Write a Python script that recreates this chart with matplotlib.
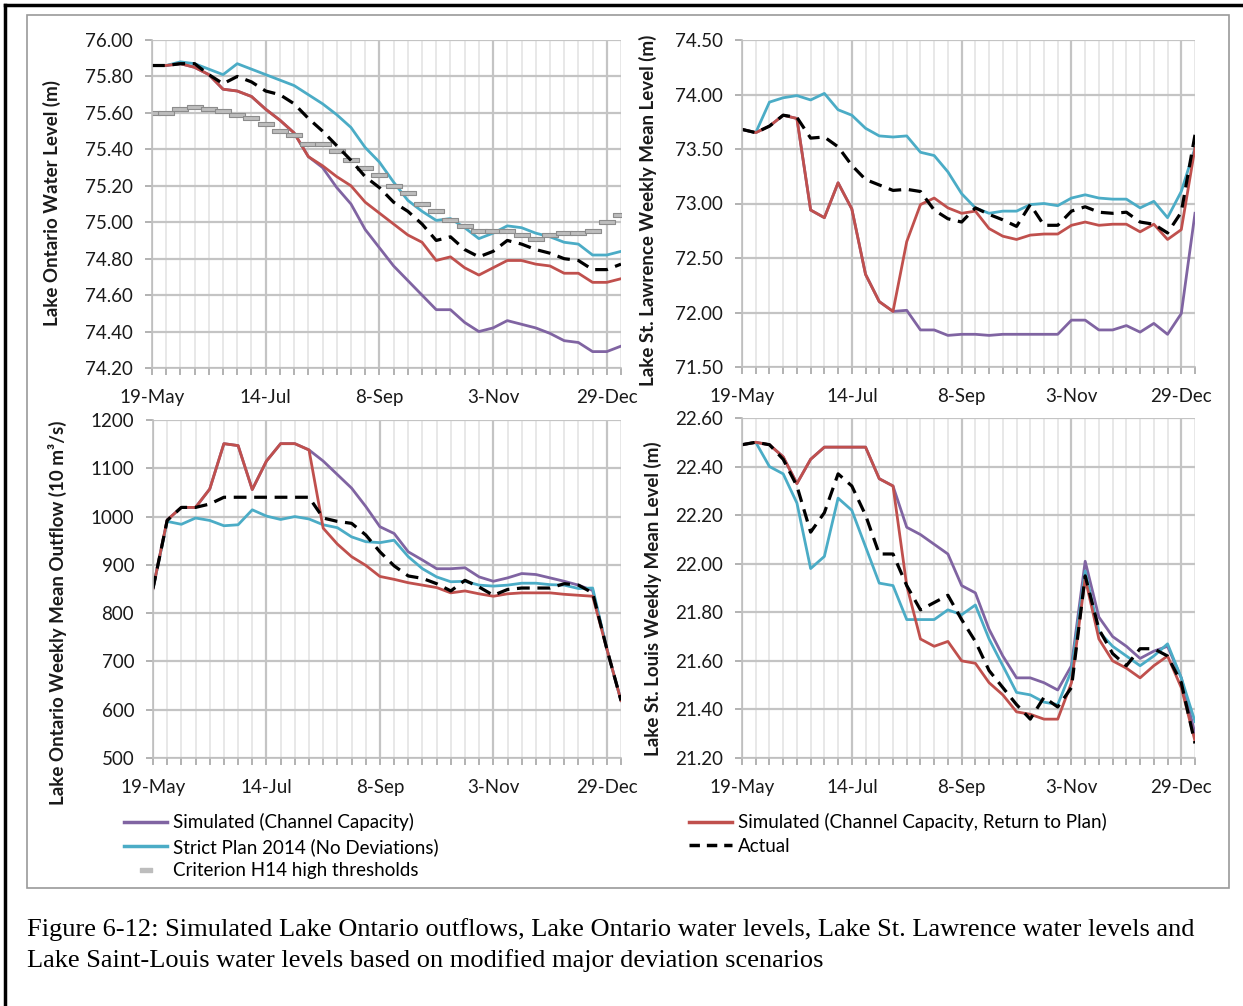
import numpy as np
import matplotlib
matplotlib.use("Agg")
import matplotlib.pyplot as plt
from matplotlib.lines import Line2D
from matplotlib.patches import Rectangle
from matplotlib.path import Path

plt.rcParams['font.family'] = ['Lato', 'DejaVu Sans']

# %% Data: weekly values, 19-May to 5-Jan (34 weeks)

weeks = np.arange(34)
tick_weeks = [0, 8, 16, 24, 32]
tick_labels = ['19-May', '14-Jul', '8-Sep', '3-Nov', '29-Dec']

# Lake Ontario water level (m)
lo_cc = [75.86, 75.86, 75.87, 75.85, 75.81, 75.73, 75.72, 75.69, 75.62, 75.56, 75.49, 75.36,
         75.30, 75.19, 75.10, 74.96, 74.86, 74.76, 74.68, 74.60, 74.52, 74.52, 74.45, 74.40,
         74.42, 74.46, 74.44, 74.42, 74.39, 74.35, 74.34, 74.29, 74.29, 74.32]
lo_rtp = [75.86, 75.86, 75.87, 75.85, 75.81, 75.73, 75.72, 75.69, 75.62, 75.56, 75.49, 75.36,
          75.31, 75.25, 75.20, 75.11, 75.05, 74.99, 74.93, 74.89, 74.79, 74.81, 74.75, 74.71,
          74.75, 74.79, 74.79, 74.77, 74.76, 74.72, 74.72, 74.67, 74.67, 74.69]
lo_strict = [75.86, 75.86, 75.88, 75.87, 75.84, 75.81, 75.87, 75.84, 75.81, 75.78, 75.75, 75.70,
             75.65, 75.59, 75.52, 75.41, 75.33, 75.22, 75.12, 75.06, 75.01, 75.02, 74.97, 74.91,
             74.94, 74.98, 74.97, 74.94, 74.92, 74.89, 74.88, 74.82, 74.82, 74.84]
lo_actual = [75.86, 75.86, 75.87, 75.87, 75.81, 75.76, 75.80, 75.77, 75.72, 75.70, 75.65, 75.57,
             75.50, 75.42, 75.34, 75.25, 75.19, 75.11, 75.06, 74.99, 74.90, 74.92, 74.85, 74.81,
             74.84, 74.90, 74.88, 74.85, 74.83, 74.80, 74.79, 74.74, 74.74, 74.77]
lo_h14 = [75.60, 75.60, 75.62, 75.63, 75.62, 75.61, 75.59, 75.57, 75.54, 75.50, 75.48, 75.43,
          75.43, 75.39, 75.34, 75.30, 75.26, 75.20, 75.16, 75.10, 75.06, 75.01, 74.98, 74.95,
          74.95, 74.95, 74.93, 74.91, 74.93, 74.94, 74.94, 74.95, 75.00, 75.04]

# Lake St. Lawrence weekly mean level (m)
lsl_cc = [73.68, 73.65, 73.71, 73.81, 73.78, 72.94, 72.87, 73.19, 72.95, 72.35, 72.10, 72.01,
          72.02, 71.84, 71.84, 71.79, 71.80, 71.80, 71.79, 71.80, 71.80, 71.80, 71.80, 71.80,
          71.93, 71.93, 71.84, 71.84, 71.88, 71.82, 71.90, 71.80, 71.99, 72.91]
lsl_rtp = [73.68, 73.65, 73.71, 73.81, 73.78, 72.94, 72.87, 73.19, 72.95, 72.35, 72.10, 72.01,
           72.65, 72.99, 73.05, 72.96, 72.91, 72.93, 72.77, 72.70, 72.67, 72.71, 72.72, 72.72,
           72.80, 72.83, 72.80, 72.81, 72.81, 72.74, 72.81, 72.67, 72.76, 73.51]
lsl_strict = [73.68, 73.65, 73.93, 73.97, 73.99, 73.95, 74.01, 73.86, 73.81, 73.69, 73.62, 73.61,
              73.62, 73.47, 73.44, 73.29, 73.09, 72.96, 72.91, 72.93, 72.93, 72.99, 73.00, 72.98,
              73.05, 73.08, 73.05, 73.04, 73.04, 72.96, 73.02, 72.87, 73.11, 73.51]
lsl_actual = [73.68, 73.65, 73.71, 73.81, 73.79, 73.60, 73.61, 73.52, 73.35, 73.22, 73.17, 73.12,
              73.13, 73.11, 72.94, 72.86, 72.83, 72.96, 72.90, 72.85, 72.79, 72.99, 72.80, 72.80,
              72.93, 72.97, 72.92, 72.91, 72.92, 72.83, 72.81, 72.73, 72.92, 73.63]

# Lake Ontario weekly mean outflow (10 m3/s)
out_cc = [851, 993, 1019, 1019, 1057, 1151, 1147, 1056, 1115, 1151, 1151, 1138,
          1115, 1087, 1059, 1021, 979, 965, 927, 910, 892, 892, 894, 875,
          866, 873, 882, 880, 873, 866, 858, 847, 726, 619]
out_rtp = [851, 993, 1019, 1019, 1057, 1151, 1147, 1056, 1115, 1151, 1151, 1138,
           976, 943, 917, 899, 876, 870, 863, 858, 853, 842, 846, 840,
           835, 840, 842, 842, 842, 839, 837, 835, 726, 619]
out_strict = [851, 990, 984, 997, 992, 981, 983, 1014, 1001, 994, 1000, 995,
              983, 977, 958, 948, 946, 951, 917, 892, 875, 865, 866, 858,
              856, 858, 862, 862, 859, 858, 851, 852, 726, 619]
out_actual = [851, 992, 1019, 1019, 1026, 1040, 1040, 1040, 1040, 1040, 1040, 1040,
              997, 990, 986, 962, 927, 898, 877, 872, 861, 846, 868, 854,
              837, 849, 852, 852, 852, 861, 858, 842, 726, 619]

# Lake St. Louis weekly mean level (m)
lsll_cc = [22.49, 22.50, 22.49, 22.44, 22.33, 22.43, 22.48, 22.48, 22.48, 22.48, 22.35, 22.32,
           22.15, 22.12, 22.08, 22.04, 21.91, 21.88, 21.73, 21.62, 21.53, 21.53, 21.51, 21.48,
           21.58, 22.01, 21.78, 21.70, 21.66, 21.61, 21.64, 21.66, 21.53, 21.30]
lsll_rtp = [22.49, 22.50, 22.49, 22.44, 22.33, 22.43, 22.48, 22.48, 22.48, 22.48, 22.35, 22.32,
            21.91, 21.69, 21.66, 21.68, 21.60, 21.59, 21.51, 21.46, 21.39, 21.38, 21.36, 21.36,
            21.51, 21.94, 21.69, 21.60, 21.57, 21.53, 21.58, 21.62, 21.49, 21.27]
lsll_strict = [22.49, 22.50, 22.40, 22.37, 22.25, 21.98, 22.03, 22.27, 22.22, 22.07, 21.92, 21.91,
               21.77, 21.77, 21.77, 21.81, 21.79, 21.83, 21.69, 21.58, 21.47, 21.46, 21.43, 21.42,
               21.56, 21.97, 21.72, 21.66, 21.62, 21.58, 21.62, 21.67, 21.53, 21.35]
lsll_actual = [22.49, 22.50, 22.49, 22.43, 22.32, 22.13, 22.21, 22.37, 22.32, 22.20, 22.04, 22.04,
               21.91, 21.81, 21.84, 21.87, 21.77, 21.68, 21.56, 21.49, 21.42, 21.36, 21.45, 21.41,
               21.49, 21.95, 21.73, 21.63, 21.58, 21.65, 21.65, 21.62, 21.51, 21.26]

c_purple = '#8064a2'
c_red = '#c0504d'
c_cyan = '#4bacc6'
lw = 2.0

# short flat bar used for the H14 thresholds
bar_marker = Path([(-1, -0.32), (1, -0.32), (1, 0.32), (-1, 0.32), (-1, -0.32)],
                  [Path.MOVETO, Path.LINETO, Path.LINETO, Path.LINETO, Path.CLOSEPOLY])

W, H = 1243, 1006
fig = plt.figure(figsize=(W / 100, H / 100), dpi=100)


def box(l, t, r, b):
    return [l / W, 1 - b / H, (r - l) / W, (b - t) / H]


def style(ax, ylim, yticks, fmt):
    ax.set_xlim(0, 33)
    ax.set_ylim(*ylim)
    ax.set_xticks(tick_weeks)
    ax.set_xticklabels(tick_labels)
    ax.set_xticks(weeks, minor=True)
    ax.set_yticks(yticks)
    ax.set_yticklabels([fmt.format(v) for v in yticks])
    ax.grid(True, which='major', color='#c4c4c4', lw=1.6)
    ax.grid(True, which='minor', axis='x', color='#e4e4e4', lw=1.2)
    ax.set_axisbelow(True)
    for s in ['top', 'right']:
        ax.spines[s].set_visible(False)
    for s in ['left', 'bottom']:
        ax.spines[s].set_color('#bfbfbf')
        ax.spines[s].set_linewidth(1.2)
    ax.tick_params(axis='both', which='both', direction='out', length=5,
                   color='#a6a6a6', width=1.2, labelsize=13.5, labelcolor='#1a1a1a')
    ax.tick_params(axis='x', which='major', pad=10)
    ax.tick_params(axis='y', which='major', pad=8.5)


def draw(ax, cc, rtp, strict, actual):
    ax.plot(weeks, cc, color=c_purple, lw=lw)
    ax.plot(weeks, strict, color=c_cyan, lw=lw)
    ax.plot(weeks, rtp, color=c_red, lw=lw)
    ax.plot(weeks, actual, color='black', lw=lw + 0.3, dashes=(4, 2.4))


# %% Panel 1: Lake Ontario water level
ax1 = fig.add_axes(box(152, 40, 621, 368))
ax1.plot(weeks, lo_cc, color=c_purple, lw=lw)
ax1.plot(weeks, lo_strict, color=c_cyan, lw=lw)
ax1.plot(weeks, lo_rtp, color=c_red, lw=lw)
ax1.plot(weeks, lo_h14, ls='none', marker=bar_marker, ms=11, mfc='#bdbdbd', mec='#8c8c8c', mew=0.8)
ax1.plot(weeks, lo_actual, color='black', lw=lw + 0.3, dashes=(4, 2.4))
style(ax1, (74.2, 76.0), np.arange(74.2, 76.01, 0.2), '{:.2f}')

# %% Panel 2: Lake St. Lawrence
ax2 = fig.add_axes(box(742, 40, 1195, 367))
draw(ax2, lsl_cc, lsl_rtp, lsl_strict, lsl_actual)
style(ax2, (71.5, 74.5), np.arange(71.5, 74.51, 0.5), '{:.2f}')

# %% Panel 3: Lake Ontario outflow
ax3 = fig.add_axes(box(153, 420, 621, 758))
draw(ax3, out_cc, out_rtp, out_strict, out_actual)
style(ax3, (500, 1200), np.arange(500, 1201, 100), '{:.0f}')

# %% Panel 4: Lake St. Louis
ax4 = fig.add_axes(box(742, 418, 1195, 758))
draw(ax4, lsll_cc, lsll_rtp, lsll_strict, lsll_actual)
style(ax4, (21.2, 22.6), np.arange(21.2, 22.61, 0.2), '{:.2f}')

# y labels
ylab = dict(rotation=90, ha='center', va='center', fontsize=13.5, fontweight='bold', color='#1a1a1a')
fig.text(52 / W, 1 - 203 / H, 'Lake Ontario Water Level (m)', **ylab)
fig.text(648 / W, 1 - 210 / H, 'Lake St. Lawrence Weekly Mean Level (m)', **ylab)
fig.text(57 / W, 1 - 613 / H, 'Lake Ontario Weekly Mean Outflow (10 m³/s)', **ylab)
fig.text(653 / W, 1 - 599 / H, 'Lake St. Louis Weekly Mean Level (m)', **ylab)

# %% Legends
h_cc = Line2D([], [], color=c_purple, lw=lw + 0.5)
h_strict = Line2D([], [], color=c_cyan, lw=lw + 0.5)
h_h14 = Line2D([], [], ls='none', marker=bar_marker, ms=9, mfc='#bdbdbd', mec='#bdbdbd')
h_rtp = Line2D([], [], color=c_red, lw=lw + 0.5)
h_act = Line2D([], [], color='black', lw=lw + 0.5, dashes=(3, 2))

leg_kw = dict(frameon=False, fontsize=13.5, handlelength=2.3, handletextpad=0.3,
              labelspacing=0.36, borderaxespad=0, borderpad=0)
leg1 = fig.legend([h_cc, h_strict, h_h14],
                  ['Simulated (Channel Capacity)', 'Strict Plan 2014 (No Deviations)',
                   'Criterion H14 high thresholds'],
                  loc='upper left', bbox_to_anchor=(124 / W, 1 - 813 / H), **leg_kw)
leg2 = fig.legend([h_rtp, h_act],
                  ['Simulated (Channel Capacity, Return to Plan)', 'Actual'],
                  loc='upper left', bbox_to_anchor=(689 / W, 1 - 813 / H), **leg_kw)

# %% Frames and caption
fig.add_artist(Rectangle((27 / W, 1 - 888 / H), (1229 - 27) / W, (888 - 15) / H,
                         transform=fig.transFigure, fill=False, ec='#9a9a9a', lw=1.2))
fig.add_artist(Line2D([5 / W, 1], [1 - 5 / H, 1 - 5 / H], transform=fig.transFigure,
                      color='black', lw=2.5))
fig.add_artist(Line2D([5 / W, 5 / W], [0, 1 - 5 / H], transform=fig.transFigure,
                      color='black', lw=2.5))

cap = dict(family='Liberation Serif', fontsize=19, va='center', ha='left', color='black')
fig.text(27 / W, 1 - 930 / H, 'Figure 6-12: Simulated Lake Ontario outflows, Lake Ontario water levels, '
         'Lake St. Lawrence water levels and', **cap)
fig.text(27 / W, 1 - 961 / H, 'Lake Saint-Louis water levels based on modified major deviation scenarios', **cap)

fig.savefig('out.png', dpi=100)
